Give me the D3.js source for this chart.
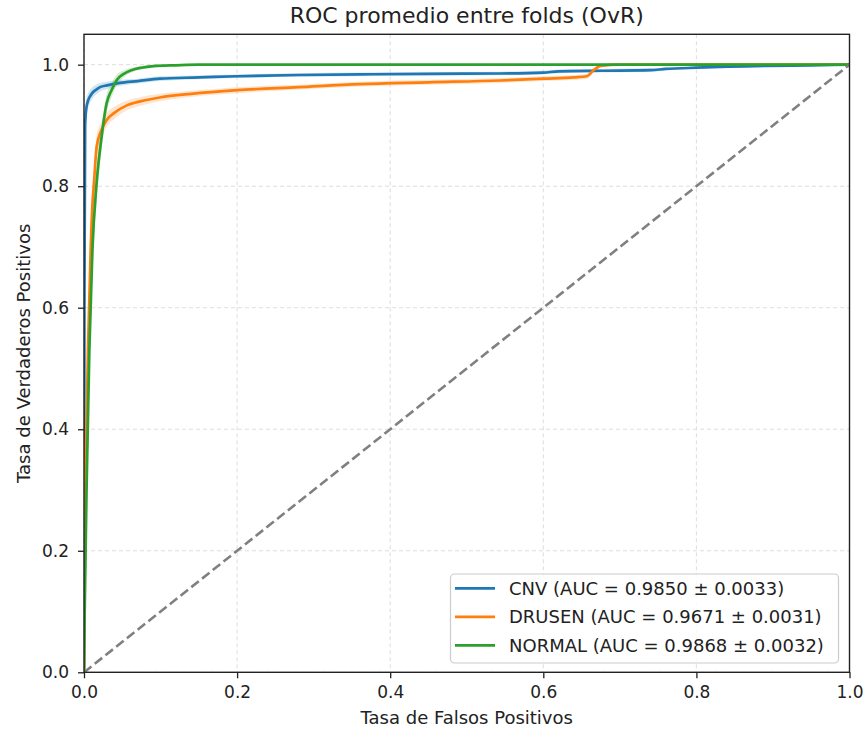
<!DOCTYPE html>
<html>
<head>
<meta charset="utf-8">
<script src="https://cdn.jsdelivr.net/npm/d3@7"></script>
<style>
  html, body { margin: 0; padding: 0; background: #fff; }
  svg { display: block; font-family: "DejaVu Sans", sans-serif; }
</style>
</head>
<body>
<svg id="chart" width="864" height="732"></svg>
<script>
// ---- Data ----
const titleText = "ROC promedio entre folds (OvR)";
const xLabelText = "Tasa de Falsos Positivos";
const yLabelText = "Tasa de Verdaderos Positivos";
const tickValues = [0, 0.2, 0.4, 0.6, 0.8, 1.0];

const classNames = ["CNV", "DRUSEN", "NORMAL"];
const aucMean = [0.9850, 0.9671, 0.9868];
const aucStd = [0.0033, 0.0031, 0.0032];

const cnvFpr = [0, 0.0005, 0.0015, 0.003, 0.0056, 0.009, 0.012, 0.016, 0.021, 0.03, 0.047, 0.07, 0.099, 0.15, 0.2, 0.28, 0.36, 0.45, 0.543, 0.6, 0.62, 0.675, 0.74, 0.76, 0.8, 0.892, 0.95, 1.0];
const cnvTpr = [0, 0.6, 0.90, 0.928, 0.942, 0.950, 0.955, 0.959, 0.963, 0.966, 0.970, 0.973, 0.977, 0.979, 0.981, 0.983, 0.984, 0.985, 0.9855, 0.987, 0.989, 0.990, 0.991, 0.993, 0.995, 0.998, 0.999, 1.0];
const cnvStd = [0, 0.03, 0.02, 0.015, 0.012, 0.01, 0.009, 0.008, 0.007, 0.006, 0.005, 0.004, 0.004, 0.003, 0.003, 0.003, 0.003, 0.003, 0.003, 0.003, 0.003, 0.003, 0.003, 0.002, 0.002, 0.001, 0.001, 0];

const drusenFpr = [0, 0.0005, 0.0017, 0.0035, 0.0052, 0.0087, 0.011, 0.013, 0.0165, 0.022, 0.0296, 0.04, 0.056, 0.075, 0.099, 0.14, 0.2, 0.28, 0.36, 0.45, 0.543, 0.6, 0.64, 0.657, 0.665, 0.675, 0.7, 1.0];
const drusenTpr = [0, 0.12, 0.31, 0.42, 0.53, 0.695, 0.77, 0.805, 0.865, 0.89, 0.909, 0.921, 0.933, 0.940, 0.946, 0.952, 0.958, 0.963, 0.968, 0.971, 0.974, 0.977, 0.979, 0.981, 0.99, 0.998, 1.0, 1.0];
const drusenStd = [0, 0.04, 0.05, 0.05, 0.045, 0.04, 0.03, 0.025, 0.02, 0.015, 0.012, 0.01, 0.008, 0.007, 0.006, 0.005, 0.005, 0.004, 0.004, 0.004, 0.004, 0.004, 0.004, 0.004, 0.004, 0.002, 0, 0];

const normalFpr = [0, 0.0008, 0.0035, 0.007, 0.011, 0.0165, 0.023, 0.0295, 0.036, 0.0426, 0.052, 0.062, 0.075, 0.0905, 0.12, 0.15, 1.0];
const normalTpr = [0, 0.09, 0.311, 0.53, 0.695, 0.805, 0.881, 0.936, 0.958, 0.9745, 0.985, 0.991, 0.995, 0.9975, 0.999, 1.0, 1.0];
const normalStd = [0, 0.03, 0.05, 0.05, 0.04, 0.03, 0.02, 0.015, 0.012, 0.009, 0.006, 0.004, 0.003, 0.002, 0.001, 0, 0];

const seriesColors = ["#1f77b4", "#ff7f0e", "#2ca02c"];

// ---- Build series ----
const series = [
  {name: classNames[0], fpr: cnvFpr, tpr: cnvTpr, std: cnvStd, auc: aucMean[0], aucSd: aucStd[0], color: seriesColors[0]},
  {name: classNames[1], fpr: drusenFpr, tpr: drusenTpr, std: drusenStd, auc: aucMean[1], aucSd: aucStd[1], color: seriesColors[1]},
  {name: classNames[2], fpr: normalFpr, tpr: normalTpr, std: normalStd, auc: aucMean[2], aucSd: aucStd[2], color: seriesColors[2]}
].map(s => ({...s, pts: s.fpr.map((f, i) => ({x: f, y: s.tpr[i], lo: Math.max(s.tpr[i] - s.std[i], 0), hi: Math.min(s.tpr[i] + s.std[i], 1)}))}));

// ---- Layout ----
const svg = d3.select("#chart");
const L = 84, R = 849.5, T = 34.3, B = 672.3;
const x = d3.scaleLinear().domain([0, 1]).range([L, R]);
const y = d3.scaleLinear().domain([0, 1.05]).range([B, T]);

svg.append("rect").attr("width", 864).attr("height", 732).attr("fill", "#fff");

// grid
const grid = svg.append("g").attr("stroke", "#d9d9d9").attr("stroke-width", 0.9).attr("stroke-dasharray", "4,3");
tickValues.forEach(v => {
  grid.append("line").attr("x1", x(v)).attr("x2", x(v)).attr("y1", T).attr("y2", B);
  grid.append("line").attr("x1", L).attr("x2", R).attr("y1", y(v)).attr("y2", y(v));
});

svg.append("clipPath").attr("id", "clip").append("rect").attr("x", L).attr("y", T).attr("width", R - L).attr("height", B - T);
const plot = svg.append("g").attr("clip-path", "url(#clip)");

const line = d3.line().x(d => x(d.x)).y(d => y(d.y)).curve(d3.curveMonotoneX);
const area = d3.area().x(d => x(d.x)).y0(d => y(d.lo)).y1(d => y(d.hi)).curve(d3.curveMonotoneX);

series.forEach(s => {
  plot.append("path").datum(s.pts).attr("d", area).attr("fill", s.color).attr("fill-opacity", 0.2);
});
series.forEach(s => {
  plot.append("path").datum(s.pts).attr("d", line).attr("fill", "none").attr("stroke", s.color).attr("stroke-width", 2.7).attr("stroke-linejoin", "round");
});

// diagonal chance line
plot.append("path").datum([{x: 0, y: 0}, {x: 1, y: 1}])
  .attr("d", d3.line().x(d => x(d.x)).y(d => y(d.y)))
  .attr("fill", "none").attr("stroke", "#808080").attr("stroke-width", 2.6).attr("stroke-dasharray", "9.5,4.2");

// axes
const fmt = d3.format(".1f");
const xAxis = svg.append("g").attr("transform", `translate(0,${B})`)
  .call(d3.axisBottom(x).tickValues(tickValues).tickFormat(fmt).tickSize(6).tickPadding(8).tickSizeOuter(0));
const yAxis = svg.append("g").attr("transform", `translate(${L},0)`)
  .call(d3.axisLeft(y).tickValues(tickValues).tickFormat(fmt).tickSize(6).tickPadding(9).tickSizeOuter(0));
[xAxis, yAxis].forEach(a => {
  a.select(".domain").remove();
  a.selectAll(".tick line").attr("stroke", "#222").attr("stroke-width", 1.3);
  a.selectAll(".tick text").attr("font-size", 17).attr("fill", "#222").attr("font-family", "DejaVu Sans, sans-serif");
});

// frame
svg.append("rect").attr("x", L).attr("y", T).attr("width", R - L).attr("height", B - T)
  .attr("fill", "none").attr("stroke", "#222").attr("stroke-width", 1.4);

// title and labels
svg.append("text").attr("x", (L + R) / 2).attr("y", 23).attr("text-anchor", "middle")
  .attr("font-size", 22).attr("fill", "#222").text(titleText);
svg.append("text").attr("x", (L + R) / 2).attr("y", 724).attr("text-anchor", "middle")
  .attr("font-size", 18).attr("fill", "#222").text(xLabelText);
svg.append("text").attr("transform", `translate(30,${(T + B) / 2}) rotate(-90)`).attr("text-anchor", "middle")
  .attr("font-size", 18).attr("fill", "#222").text(yLabelText);

// legend
const lg = svg.append("g");
lg.append("rect").attr("x", 450.5).attr("y", 574).attr("width", 388).attr("height", 89).attr("rx", 4)
  .attr("fill", "#fff").attr("fill-opacity", 0.8).attr("stroke", "#cccccc").attr("stroke-width", 1.2);
const rowY = [588.3, 616.8, 645.3];
series.forEach((s, i) => {
  lg.append("line").attr("x1", 455).attr("x2", 495).attr("y1", rowY[i]).attr("y2", rowY[i])
    .attr("stroke", s.color).attr("stroke-width", 2.7);
  lg.append("text").attr("x", 509).attr("y", rowY[i]).attr("dy", "0.36em")
    .attr("font-size", 18).attr("fill", "#222")
    .text(`${s.name} (AUC = ${s.auc.toFixed(4)} \u00b1 ${s.aucSd.toFixed(4)})`);
});
</script>
</body>
</html>
